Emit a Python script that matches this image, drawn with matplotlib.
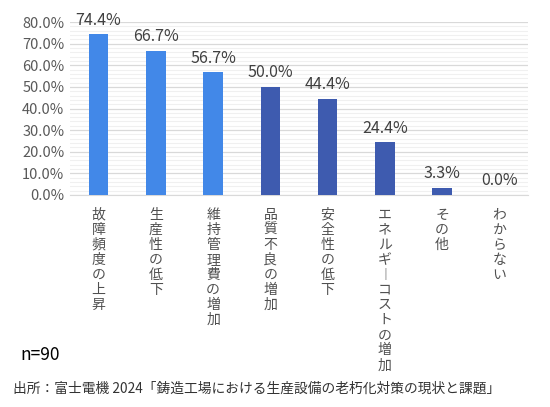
import matplotlib
matplotlib.use("Agg")
import matplotlib.pyplot as plt
from matplotlib.ticker import MultipleLocator, FuncFormatter

plt.rcParams['font.family'] = ['Noto Sans CJK JP', 'DejaVu Sans']

categories = ["故障頻度の上昇", "生産性の低下", "維持管理費の増加", "品質不良の増加",
              "安全性の低下", "エネルギーコストの増加", "その他", "わからない"]
values = [74.4, 66.7, 56.7, 50.0, 44.4, 24.4, 3.3, 0.0]
highlight = [True, True, True, False, False, False, False, False]
source = "出所：富士電機 2024「鋳造工場における生産設備の老朽化対策の現状と課題」"
n_label = "n=90"

light = "#4288E8"
dark = "#3E5BAF"

fig = plt.figure(figsize=(5.5, 4.07), dpi=100)
ax = fig.add_axes([70/550, 1-195/407, 458/550, 173/407])

x = list(range(len(categories)))
colors = [light if h else dark for h in highlight]
ax.bar(x, values, width=0.34, color=colors, zorder=3)
ax.set_xlim(-0.5, len(categories)-0.5)
ax.set_ylim(0, 80)

ax.yaxis.set_major_locator(MultipleLocator(10))
ax.yaxis.set_minor_locator(MultipleLocator(2))
ax.yaxis.set_major_formatter(FuncFormatter(lambda v, p: f"{v:.1f}%"))
ax.grid(axis='y', which='major', color='#d9d9d9', linewidth=0.9, zorder=0)
ax.grid(axis='y', which='minor', color='#f0f0f0', linewidth=0.8, zorder=0)
for s in ['top', 'right', 'left']:
    ax.spines[s].set_visible(False)
ax.spines['bottom'].set_color('#d9d9d9')
ax.tick_params(axis='y', which='both', length=0, labelsize=10.5, labelcolor='#595959', pad=4)
ax.tick_params(axis='x', length=0, pad=9)

def vert(s):
    return "\n".join("︱" if c == "ー" else c for c in s)

ax.set_xticks(x)
ax.set_xticklabels([vert(c) for c in categories], fontsize=10, color='#505050',
                   linespacing=1.1, va='top')

for xi, v in zip(x, values):
    ax.annotate(f"{v:.1f}%", (xi, v), xytext=(0, 4), textcoords='offset points',
                ha='center', va='bottom', fontsize=11.5, color='#404040')

fig.text(20/550, 1-355/407, n_label, fontsize=12.5, color='black', va='center', ha='left')
fig.text(13/550, 1-389/407, source, fontsize=9.9, color='#333333', va='center', ha='left')

fig.savefig("out.png", dpi=100)
